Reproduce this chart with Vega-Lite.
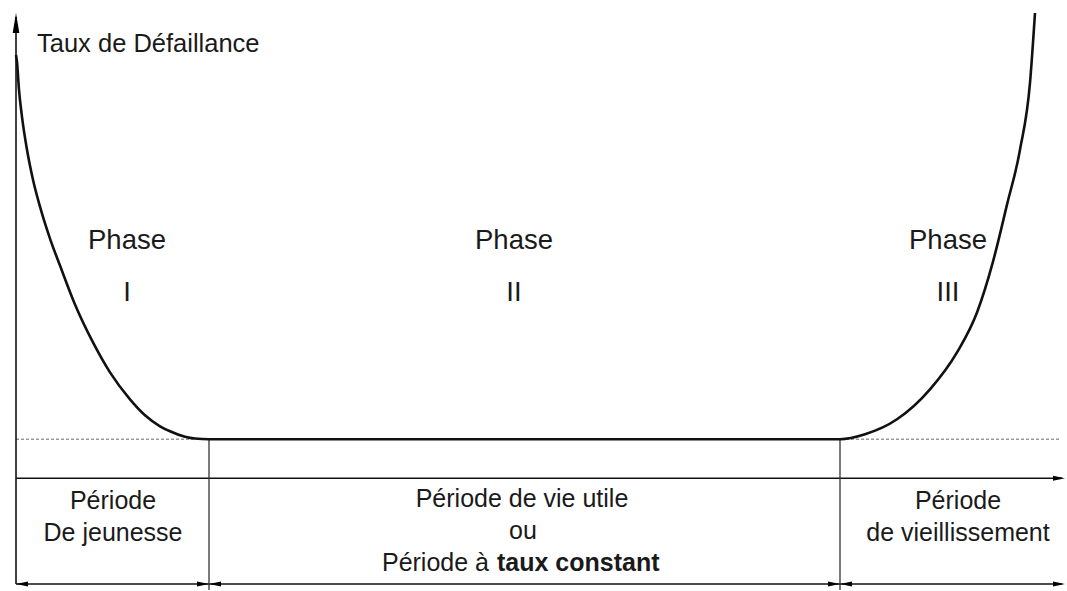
{
  "$schema": "https://vega.github.io/schema/vega-lite/v6.json",
  "width": 1067,
  "height": 591,
  "autosize": {"type": "fit", "contains": "padding"},
  "padding": 0,
  "background": "white",
  "config": {"view": {"stroke": null}, "text": {"font": "Liberation Sans", "fontSize": 25, "color": "#1a1a1a"}},
  "datasets": {
    "curve": [
      {"t": 0, "rate": 424}, {"t": 1, "rate": 417}, {"t": 3, "rate": 389}, {"t": 6, "rate": 362},
      {"t": 11, "rate": 329}, {"t": 17, "rate": 299}, {"t": 24, "rate": 272}, {"t": 34, "rate": 240},
      {"t": 44, "rate": 213}, {"t": 59, "rate": 174}, {"t": 77, "rate": 136}, {"t": 94, "rate": 106},
      {"t": 114, "rate": 79}, {"t": 129, "rate": 63}, {"t": 144, "rate": 52}, {"t": 154, "rate": 47},
      {"t": 169, "rate": 41.5}, {"t": 179, "rate": 39.7}, {"t": 193, "rate": 39}, {"t": 824, "rate": 39},
      {"t": 849, "rate": 44}, {"t": 881, "rate": 59}, {"t": 914, "rate": 89}, {"t": 941, "rate": 126},
      {"t": 961, "rate": 166}, {"t": 977, "rate": 217}, {"t": 991, "rate": 274}, {"t": 1004, "rate": 329},
      {"t": 1014, "rate": 396}, {"t": 1019, "rate": 466}
    ],
    "axes": [
      {"t": 0, "t2": 0, "r": -106, "r2": 462},
      {"t": 0, "t2": 1046, "r": 0, "r2": 0},
      {"t": 0, "t2": 1046, "r": -106, "r2": -106}
    ],
    "dividers": [
      {"t": 193, "t2": 193, "r": 39, "r2": -112},
      {"t": 824, "t2": 824, "r": 39, "r2": -112}
    ],
    "baseline": [{"t": 0, "t2": 1044, "r": 39, "r2": 39}],
    "upArrow": [{"t": 0, "r": 456}],
    "rightArrows": [{"t": 1043, "r": 0}, {"t": 187, "r": -106}, {"t": 818, "r": -106}, {"t": 1043, "r": -106}],
    "leftArrows": [{"t": 6, "r": -106}, {"t": 199, "r": -106}, {"t": 830, "r": -106}],
    "phases": [
      {"label": "Phase", "t": 111, "r": 230}, {"label": "I", "t": 111, "r": 177},
      {"label": "Phase", "t": 498, "r": 230}, {"label": "II", "t": 498, "r": 177},
      {"label": "Phase", "t": 932, "r": 230}, {"label": "III", "t": 932, "r": 177}
    ],
    "labelsCenter": [
      {"label": "Période", "t": 97, "r": -31}, {"label": "De jeunesse", "t": 97, "r": -63},
      {"label": "Période de vie utile", "t": 506, "r": -29}, {"label": "ou", "t": 507, "r": -61},
      {"label": "Période", "t": 942, "r": -31}, {"label": "de vieillissement", "t": 942, "r": -63}
    ],
    "title": [{"label": "Taux de Défaillance", "t": 21, "r": 427}],
    "normalRight": [{"label": "Période à", "t": 473, "r": -93}],
    "boldLeft": [{"label": "taux constant", "t": 481, "r": -93}]
  },
  "layer": [
    {
      "data": {"name": "baseline"},
      "mark": {"type": "rule", "color": "#999999", "strokeWidth": 1.5, "strokeDash": [3, 2]},
      "encoding": {
        "x": {"field": "t", "type": "quantitative", "scale": {"domain": [-16, 1051], "nice": false, "zero": false}, "axis": null},
        "x2": {"field": "t2"},
        "y": {"field": "r", "type": "quantitative", "scale": {"domain": [-112, 479], "nice": false, "zero": false}, "axis": null},
        "y2": {"field": "r2"}
      }
    },
    {
      "data": {"name": "axes"},
      "mark": {"type": "rule", "color": "#111111", "strokeWidth": 1.6},
      "encoding": {
        "x": {"field": "t", "type": "quantitative"},
        "x2": {"field": "t2"},
        "y": {"field": "r", "type": "quantitative"},
        "y2": {"field": "r2"}
      }
    },
    {
      "data": {"name": "dividers"},
      "mark": {"type": "rule", "color": "#333333", "strokeWidth": 1.3},
      "encoding": {
        "x": {"field": "t", "type": "quantitative"},
        "x2": {"field": "t2"},
        "y": {"field": "r", "type": "quantitative"},
        "y2": {"field": "r2"}
      }
    },
    {
      "data": {"name": "curve"},
      "mark": {"type": "line", "color": "#111111", "strokeWidth": 2.6, "interpolate": "monotone"},
      "encoding": {
        "x": {"field": "t", "type": "quantitative"},
        "y": {"field": "rate", "type": "quantitative"}
      }
    },
    {
      "data": {"name": "upArrow"},
      "mark": {"type": "point", "shape": "M0,-1L0.33,1L-0.33,1Z", "size": 400, "filled": true, "color": "#000000", "opacity": 1, "strokeWidth": 0},
      "encoding": {
        "x": {"field": "t", "type": "quantitative"},
        "y": {"field": "r", "type": "quantitative"}
      }
    },
    {
      "data": {"name": "rightArrows"},
      "mark": {"type": "point", "shape": "M1,0L-1,-0.42L-1,0.42Z", "size": 144, "filled": true, "color": "#000000", "opacity": 1, "strokeWidth": 0},
      "encoding": {
        "x": {"field": "t", "type": "quantitative"},
        "y": {"field": "r", "type": "quantitative"}
      }
    },
    {
      "data": {"name": "leftArrows"},
      "mark": {"type": "point", "shape": "M-1,0L1,-0.42L1,0.42Z", "size": 144, "filled": true, "color": "#000000", "opacity": 1, "strokeWidth": 0},
      "encoding": {
        "x": {"field": "t", "type": "quantitative"},
        "y": {"field": "r", "type": "quantitative"}
      }
    },
    {
      "data": {"name": "phases"},
      "mark": {"type": "text", "align": "center", "baseline": "alphabetic", "fontSize": 27.5},
      "encoding": {
        "x": {"field": "t", "type": "quantitative"},
        "y": {"field": "r", "type": "quantitative"},
        "text": {"field": "label"}
      }
    },
    {
      "data": {"name": "labelsCenter"},
      "mark": {"type": "text", "align": "center", "baseline": "alphabetic"},
      "encoding": {
        "x": {"field": "t", "type": "quantitative"},
        "y": {"field": "r", "type": "quantitative"},
        "text": {"field": "label"}
      }
    },
    {
      "data": {"name": "title"},
      "mark": {"type": "text", "align": "left", "baseline": "alphabetic", "fontSize": 25.5},
      "encoding": {
        "x": {"field": "t", "type": "quantitative"},
        "y": {"field": "r", "type": "quantitative"},
        "text": {"field": "label"}
      }
    },
    {
      "data": {"name": "normalRight"},
      "mark": {"type": "text", "align": "right", "baseline": "alphabetic"},
      "encoding": {
        "x": {"field": "t", "type": "quantitative"},
        "y": {"field": "r", "type": "quantitative"},
        "text": {"field": "label"}
      }
    },
    {
      "data": {"name": "boldLeft"},
      "mark": {"type": "text", "align": "left", "baseline": "alphabetic", "fontWeight": "bold"},
      "encoding": {
        "x": {"field": "t", "type": "quantitative"},
        "y": {"field": "r", "type": "quantitative"},
        "text": {"field": "label"}
      }
    }
  ]
}
